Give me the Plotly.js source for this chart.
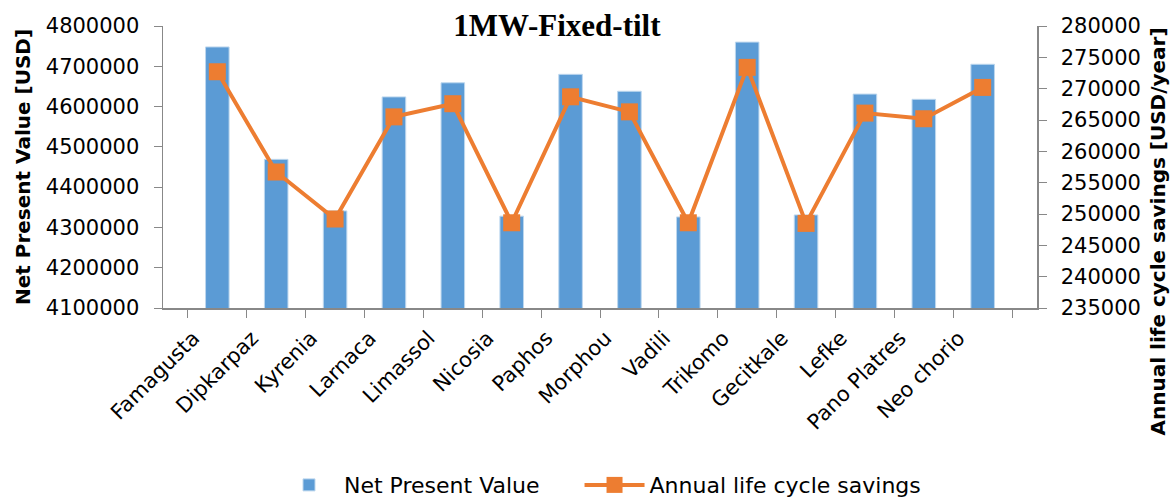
<!DOCTYPE html>
<html><head><meta charset="utf-8">
<script src="https://cdn.plot.ly/plotly-3.0.1.min.js"></script>
<style>body{margin:0;background:#fff}#chart{width:1171px;height:502px}</style>
</head><body><div id="chart"></div>
<script>
var categories = ["Famagusta","Dipkarpaz","Kyrenia","Larnaca","Limassol","Nicosia","Paphos","Morphou","Vadili","Trikomo","Gecitkale","Lefke","Pano Platres","Neo chorio"];
var npv = [4748000,4469000,4341000,4624000,4659000,4328000,4680000,4638000,4326000,4760000,4331000,4631000,4618000,4705000];
var savings = [272700,256700,249200,265500,267600,248600,268700,266300,248600,273400,248500,266100,265200,270200];
var leftTicks = [4100000,4200000,4300000,4400000,4500000,4600000,4700000,4800000];
var rightTicks = [235000,240000,245000,250000,255000,260000,265000,270000,275000,280000];
var leftTitle = "Net Present Value [USD]";
var rightTitle = "Annual life cycle savings [USD/year]";
var pad = "\u00a0\u00a0\u00a0\u00a0\u00a0";

var tickFont = {family:"DejaVu Sans", size:21, color:"#000"};
var data = [
  {type:"bar", name:"Net Present Value" + pad, x:categories, y:npv, width:0.4,
   marker:{color:"#5B9BD5", line:{color:"#BDD7EE", width:1}}, yaxis:"y"},
  {type:"scatter", mode:"lines+markers", name:"Annual life cycle savings", x:categories, y:savings, yaxis:"y2",
   line:{color:"#ED7D31", width:4}, marker:{symbol:"square", size:17, color:"#ED7D31"}}
];
var layout = {
  width:1171, height:502,
  margin:{l:163, r:134, t:26, b:194, autoexpand:false},
  paper_bgcolor:"#fff", plot_bgcolor:"#fff",
  title:{text:"<b>1MW-Fixed-tilt</b>", font:{family:"Liberation Serif", size:31, color:"#000"}, x:0.4756, xanchor:"center", y:0.95, yanchor:"middle", automargin:false},
  showlegend:true,
  legend:{orientation:"h", x:0.5, xanchor:"center", y:-0.628, yanchor:"middle", font:{family:"DejaVu Sans", size:22, color:"#000"}, itemwidth:60, traceorder:"normal"},
  xaxis:{tickfont:tickFont, tickangle:-45, automargin:false, ticklabelshift:-24, ticklabelstandoff:8, showline:true, linecolor:"#888", linewidth:1.5, ticks:"outside", ticklen:8, tickcolor:"#888", tickson:"boundaries", showgrid:false, zeroline:false},
  yaxis:{range:[4100000,4800000], tickvals:leftTicks, ticktext:leftTicks.map(String), tickfont:tickFont, automargin:false, ticklabelstandoff:10, showline:true, linecolor:"#888", linewidth:1.5, ticks:"outside", ticklen:8, tickcolor:"#888", showgrid:false, zeroline:false,
    title:{text:"<b>" + leftTitle + "</b>", font:{family:"DejaVu Sans", size:20, color:"#000"}, standoff:10}},
  yaxis2:{overlaying:"y", side:"right", range:[235000,280000], tickvals:rightTicks, ticktext:rightTicks.map(String), tickfont:tickFont, automargin:false, ticklabelstandoff:10, showline:true, linecolor:"#888", linewidth:1.5, ticks:"outside", ticklen:8, tickcolor:"#888", showgrid:false, zeroline:false},
  annotations:[{text:"<b>" + rightTitle + "</b>", xref:"paper", yref:"paper", x:1.138, y:0.27, xanchor:"center", yanchor:"middle", textangle:-90, showarrow:false, font:{family:"DejaVu Sans", size:20, color:"#000"}}]
};
Plotly.newPlot("chart", data, layout, {displayModeBar:false, staticPlot:true});
</script></body></html>
